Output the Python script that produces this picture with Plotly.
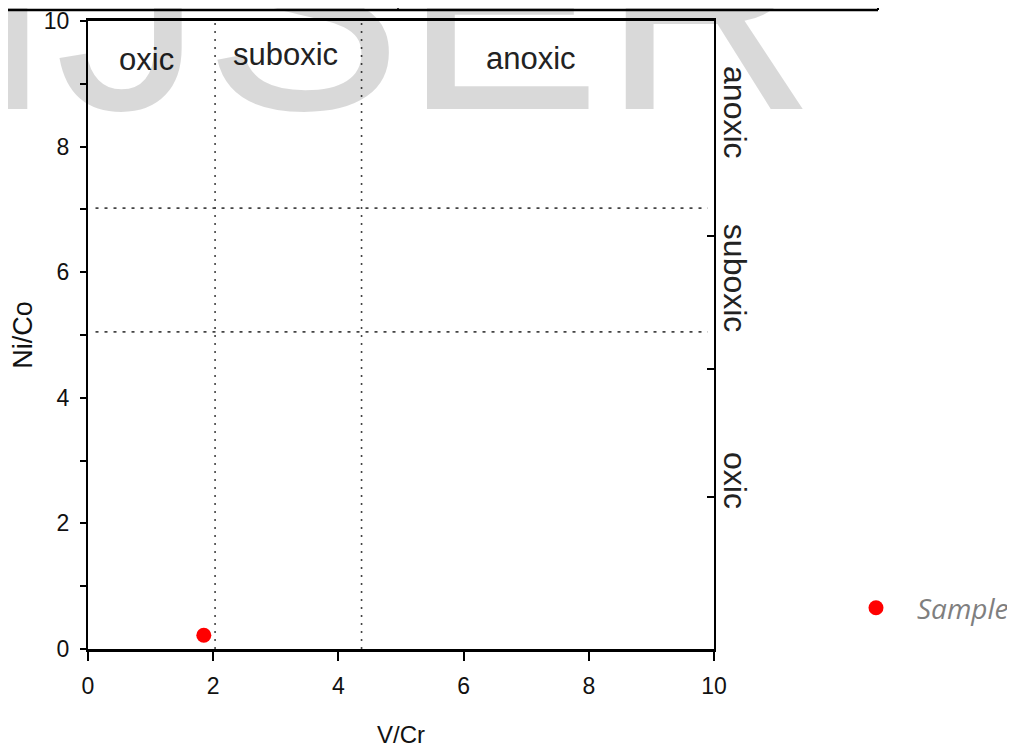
import plotly.graph_objects as go

# ---- data ----
sample_x = [1.85]          # V/Cr
sample_y = [0.22]          # Ni/Co
sample_name = "Sample"

vcr_limits = [2.03, 4.37]   # vertical dotted boundaries (V/Cr)
nico_limits = [5.05, 7.02]  # horizontal dotted boundaries (Ni/Co)

top_labels = ["oxic", "suboxic", "anoxic"]
top_label_x = [0.93, 3.16, 7.08]
top_label_y = [9.38, 9.46, 9.40]

right_labels = ["anoxic", "suboxic", "oxic"]
right_label_y = [8.55, 5.91, 2.69]

right_ticks = [2.42, 4.46, 6.58]

x_range = [0, 10]
y_range = [0, 10]

# ---- geometry (page has an 8px body margin, so figure px = page px - 8) ----
OFF = 8
W, H = 1015 - OFF, 748 - OFF
ML, MT = 88 - OFF, 21 - OFF
MR = W - (714 - OFF)
MB = H - (649 - OFF)
PW = W - ML - MR
PH = H - MT - MB


def px_to_paper_x(px):
    """px given in page (reference) coordinates"""
    return (px - OFF - ML) / PW


def px_to_paper_y(py):
    return (H - MB - (py - OFF)) / PH


TICK_FONT = dict(family="Liberation Sans Narrow, Arial Narrow, Liberation Sans, Arial",
                 size=23, color="#111111")
LABEL_FONT = dict(family="Liberation Sans, Arial", size=31, color="#222222")

fig = go.Figure()

# dotted boundary lines
for v in vcr_limits:
    fig.add_trace(go.Scatter(x=[v, v], y=y_range, mode="lines",
                             line=dict(color="#444444", width=1.6, dash="2px,6px"),
                             showlegend=False, hoverinfo="skip"))
for v in nico_limits:
    fig.add_trace(go.Scatter(x=[0.12, 9.9], y=[v, v], mode="lines",
                             line=dict(color="#444444", width=1.6, dash="3px,6px"),
                             showlegend=False, hoverinfo="skip"))

# sample point
fig.add_trace(go.Scatter(x=sample_x, y=sample_y, mode="markers", name=sample_name,
                         marker=dict(color="#ff0000", size=15, line=dict(width=0)),
                         showlegend=True, cliponaxis=False))

# dummy trace to activate the right-side inner tick axis
fig.add_trace(go.Scatter(x=[None], y=[None], yaxis="y2", showlegend=False,
                         hoverinfo="skip"))

annotations = []
for t, x, y in zip(top_labels, top_label_x, top_label_y):
    annotations.append(dict(text=t, x=x, y=y, xref="x", yref="y", showarrow=False,
                            font=LABEL_FONT, xanchor="center", yanchor="middle"))
for t, y in zip(right_labels, right_label_y):
    annotations.append(dict(text=t, x=px_to_paper_x(735), y=y, xref="paper", yref="y",
                            showarrow=False,
                            font=dict(family="Liberation Sans, Arial", size=32,
                                      color="#222222"),
                            textangle=90, xanchor="center", yanchor="middle"))

# watermark (semi-transparent overlay)
annotations.append(dict(text="IJSER", x=px_to_paper_x(-30), y=px_to_paper_y(174),
                        xref="paper", yref="paper", showarrow=False,
                        xanchor="left", yanchor="bottom",
                        font=dict(family="Liberation Sans, Arial", size=298,
                                  color="rgba(0,0,0,0.15)")))

# remnants of the table above the figure
shapes = [
    dict(type="line", xref="paper", yref="paper",
         x0=px_to_paper_x(0), x1=px_to_paper_x(878),
         y0=px_to_paper_y(10), y1=px_to_paper_y(10),
         line=dict(color="black", width=2.5)),
    dict(type="line", xref="paper", yref="paper",
         x0=px_to_paper_x(398), x1=px_to_paper_x(398),
         y0=px_to_paper_y(-2), y1=px_to_paper_y(10),
         line=dict(color="black", width=1.5)),
    dict(type="line", xref="paper", yref="paper",
         x0=px_to_paper_x(878), x1=px_to_paper_x(878),
         y0=px_to_paper_y(-2), y1=px_to_paper_y(10),
         line=dict(color="black", width=2)),
]

fig.update_layout(
    width=W, height=H,
    margin=dict(l=ML, r=MR, t=MT, b=MB, autoexpand=False),
    paper_bgcolor="white", plot_bgcolor="white",
    xaxis=dict(range=x_range, tick0=0, dtick=2, ticks="outside", ticklen=9,
               tickwidth=1.5, tickcolor="black", showline=True, linecolor="black",
               linewidth=2.5, mirror=True, showgrid=False, zeroline=False,
               tickfont=TICK_FONT, ticklabelstandoff=6,
               title=dict(text="V/Cr", standoff=28,
                          font=dict(family="Liberation Sans Narrow, Arial Narrow, Liberation Sans",
                                    size=24, color="#111111")),
               automargin=False, fixedrange=True),
    yaxis=dict(range=y_range, tick0=0, dtick=2, ticks="outside", ticklen=6,
               tickwidth=1.5, tickcolor="black", showline=True, linecolor="black",
               linewidth=2, mirror=True, showgrid=False, zeroline=False,
               minor=dict(dtick=1, ticks="outside", ticklen=6, tickwidth=1.5,
                          tickcolor="black", showgrid=False),
               tickfont=TICK_FONT, ticklabelstandoff=6,
               title=dict(text="Ni/Co", standoff=12,
                          font=dict(family="Liberation Sans, Arial", size=27,
                                    color="#111111")),
               automargin=False, fixedrange=True),
    yaxis2=dict(range=y_range, overlaying="y", side="right", tickvals=right_ticks,
                ticks="inside", ticklen=7, tickwidth=1.5, tickcolor="black",
                showticklabels=False, showgrid=False, showline=False,
                zeroline=False, fixedrange=True),
    legend=dict(x=px_to_paper_x(835), y=px_to_paper_y(608), xanchor="left",
                yanchor="middle", bgcolor="rgba(0,0,0,0)", borderwidth=0,
                itemwidth=72,
                font=dict(family="Open Sans, Lato, sans-serif", size=28,
                          color="#7f7f7f", style="italic")),
    annotations=annotations,
    shapes=shapes,
    showlegend=True,
)

fig.write_html("out.html")
